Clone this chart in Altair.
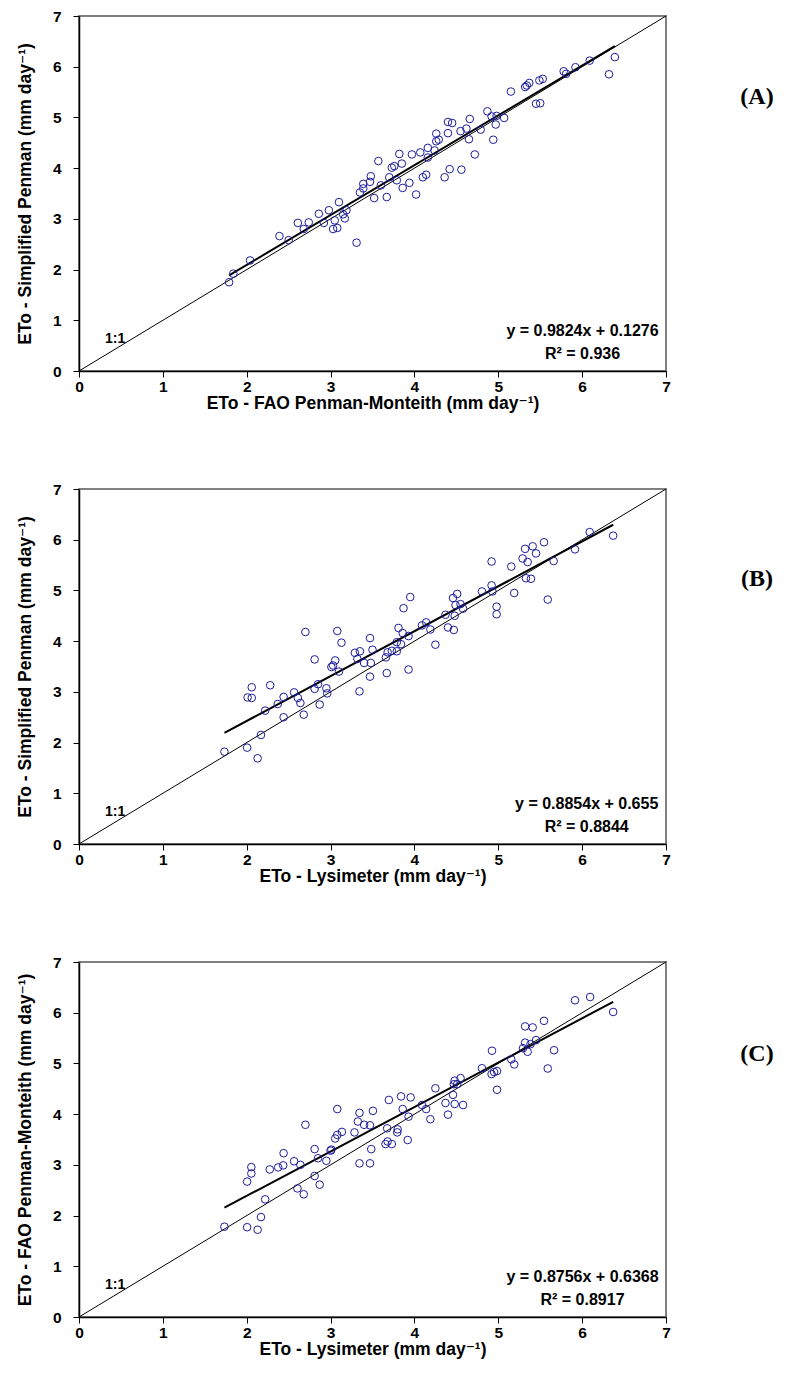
import altair as alt
import pandas as pd

# ---------------- data ----------------
A_x = [1.84, 1.79, 2.04, 2.39, 2.50, 2.61, 2.74, 2.68, 2.86, 2.92, 2.98, 3.10, 3.03, 3.08, 3.05,
       3.17, 3.19, 3.15, 3.31, 3.35, 3.39, 3.39, 3.48, 3.47, 3.52, 3.60, 3.57, 3.67, 3.70, 3.73,
       3.76, 3.82, 3.85, 3.79, 3.86, 3.94, 4.02, 3.97, 4.07, 4.16, 4.16, 4.24, 4.10, 4.14, 4.26,
       4.26, 4.29, 4.40, 4.45, 4.40, 4.55, 4.36, 4.42, 4.56,
       4.66, 4.62, 4.65, 4.79, 4.72, 4.87, 4.92, 4.98, 4.97, 5.07, 4.94, 5.15, 5.32, 5.34, 5.37,
       5.49, 5.53, 5.45, 5.50, 5.78, 5.81, 5.92, 6.09, 6.39, 6.32]
A_y = [1.92, 1.75, 2.18, 2.66, 2.58, 2.92, 2.93, 2.80, 3.10, 2.92, 3.17, 3.33, 2.80, 2.82, 2.97,
       3.01, 3.17, 3.09, 2.53, 3.52, 3.69, 3.60, 3.84, 3.73, 3.41, 3.66, 4.14, 3.43, 3.82, 4.01,
       4.04, 4.28, 4.09, 3.76, 3.61, 3.71, 3.48, 4.27, 4.31, 4.40, 4.21, 4.35, 3.82, 3.87, 4.68,
       4.53, 4.56, 4.91, 4.89, 4.69, 4.73, 3.82, 3.98, 3.97,
       4.97, 4.78, 4.57, 4.76, 4.27, 5.12, 5.02, 5.03, 4.86, 4.99, 4.56, 5.51, 5.60, 5.63, 5.68,
       5.73, 5.76, 5.27, 5.28, 5.91, 5.86, 5.99, 6.12, 6.19, 5.85]

B_x = [1.734, 2.005, 2.13, 2.17, 2.22, 2.01, 2.06, 2.06, 2.28, 2.37, 2.44, 2.44, 2.565, 2.61, 2.64,
       2.68, 2.70, 2.81, 2.81, 2.85, 2.87, 2.95, 2.96, 3.01, 3.03, 3.055, 3.10, 3.08, 3.13, 3.345,
       3.29, 3.35, 3.32, 3.40, 3.47, 3.50, 3.48, 3.47, 3.67, 3.66, 3.68, 3.73, 3.79, 3.79, 3.84,
       3.81, 3.86, 3.93, 3.87, 3.95, 3.93, 4.09, 4.14, 4.19, 4.25, 4.37, 4.40, 4.47, 4.46, 4.51,
       4.49, 4.48, 4.55, 4.58, 4.805, 4.92, 4.93, 4.92, 4.98, 4.98, 5.155, 5.19, 5.32, 5.29, 5.35,
       5.41, 5.45, 5.545, 5.33, 5.39, 5.66, 5.59, 5.915, 6.09, 6.37]
B_y = [1.82, 1.90, 1.69, 2.15, 2.63, 2.89, 2.88, 3.09, 3.13, 2.76, 2.90, 2.50, 2.99, 2.88, 2.78,
       2.55, 4.18, 3.64, 3.06, 3.15, 2.75, 3.07, 2.97, 3.49, 3.52, 3.62, 3.40, 4.20, 3.97, 3.01,
       3.77, 3.80, 3.65, 3.57, 4.06, 3.83, 3.57, 3.30, 3.37, 3.68, 3.78, 3.81, 3.80, 3.98, 3.94,
       4.26, 4.16, 4.10, 4.65, 4.87, 3.44, 4.31, 4.37, 4.23, 3.93, 4.52, 4.27, 4.22, 4.85, 4.93,
       4.71, 4.50, 4.73, 4.64, 4.98, 5.10, 4.98, 5.57, 4.68, 4.53, 5.47, 4.95, 5.82, 5.63, 5.56,
       5.87, 5.73, 5.95, 5.24, 5.23, 5.58, 4.82, 5.81, 6.15, 6.08]

C_x = [1.734, 2.005, 2.13, 2.17, 2.22, 2.005, 2.055, 2.055, 2.275, 2.375, 2.435, 2.44, 2.565, 2.64,
       2.605, 2.68, 2.70, 2.81, 2.85, 2.81, 2.87, 2.95, 3.00, 3.01, 3.055, 3.08, 3.135, 3.08, 3.285,
       3.325, 3.345, 3.40, 3.47, 3.505, 3.345, 3.47, 3.485, 3.655, 3.68, 3.73, 3.675, 3.695, 3.795,
       3.80, 3.92, 3.86, 3.93, 3.84, 3.955, 4.09, 4.14, 4.19, 4.25, 4.37, 4.40, 4.48, 4.47, 4.48,
       4.51, 4.55, 4.58, 4.46, 4.805, 4.925, 4.92, 4.95, 4.985, 4.985, 5.155, 5.19, 5.32, 5.41, 5.32,
       5.295, 5.35, 5.385, 5.45, 5.545, 5.665, 5.59, 5.915, 6.095, 6.37]
C_y = [1.78, 1.77, 1.72, 1.97, 2.32, 2.67, 2.83, 2.955, 2.91, 2.95, 2.99, 3.23, 3.07, 3.00,
       2.535, 2.42, 3.79, 3.31, 3.13, 2.78, 2.61, 3.08, 3.28, 3.30, 3.52, 3.59, 3.65, 4.10, 3.64,
       3.855, 4.025, 3.79, 3.78, 4.065, 3.03, 3.03, 3.31, 3.41, 3.46, 3.41, 3.72, 4.28, 3.64,
       3.70, 3.49, 4.10, 3.95, 4.35, 4.33, 4.18, 4.10, 3.90, 4.51, 4.22, 3.99, 4.20, 4.59, 4.66,
       4.59, 4.71, 4.18, 4.38, 4.905, 5.25, 4.79, 4.83, 4.85, 4.48, 5.08, 4.98, 5.73, 5.71, 5.41,
       5.30, 5.23, 5.38, 5.46, 5.84, 5.26, 4.90, 6.245, 6.31, 6.015]

slopes = [0.9824, 0.8854, 0.8756]
intercepts = [0.1276, 0.655, 0.6368]
eq_texts = ["y = 0.9824x + 0.1276", "y = 0.8854x + 0.655", "y = 0.8756x + 0.6368"]
r2_texts = ["R\u00b2 = 0.936", "R\u00b2 = 0.8844", "R\u00b2 = 0.8917"]
x_titles = ["ETo - FAO Penman-Monteith (mm day\u207b\u00b9)",
            "ETo - Lysimeter (mm day\u207b\u00b9)",
            "ETo - Lysimeter (mm day\u207b\u00b9)"]
y_titles = ["ETo - Simplified Penman (mm day\u207b\u00b9)",
            "ETo - Simplified Penman (mm day\u207b\u00b9)",
            "ETo - FAO Penman-Monteith (mm day\u207b\u00b9)"]
tags = ["(A)", "(B)", "(C)"]
ticks = [0, 1, 2, 3, 4, 5, 6, 7]

# ---------------- style ----------------
W, H = 587, 355
NAVY = "#1c1c9c"
SANS = "Liberation Sans, Arial, DejaVu Sans"
SERIF = "Liberation Serif, Times New Roman, serif"
eq_cx = [503.5, 507.7, 503.5]
tag_y = [81, 90, 92]


def panel(i, xs_, ys_):
    df = pd.DataFrame({"x": xs_, "y": ys_})
    sx = alt.Scale(domain=[0, 7], nice=False, zero=False)
    sy = alt.Scale(domain=[0, 7], nice=False, zero=False)
    ax = alt.Axis(title=x_titles[i], values=ticks, labelFlush=False, grid=False,
                  labelPadding=2, titlePadding=0)
    ay = alt.Axis(title=y_titles[i], values=ticks, grid=False, labelPadding=12, titlePadding=18)
    X = alt.X("x:Q", scale=sx, axis=ax)
    Y = alt.Y("y:Q", scale=sy, axis=ay)

    one = alt.Chart(pd.DataFrame({"x": [0, 7], "y": [0, 7]})).mark_line(
        color="black", strokeWidth=1).encode(x=X, y=Y)
    x0, x1 = min(xs_), max(xs_)
    reg_df = pd.DataFrame({"x": [x0, x1],
                           "y": [slopes[i] * x0 + intercepts[i], slopes[i] * x1 + intercepts[i]]})
    reg = alt.Chart(reg_df).mark_line(color="black", strokeWidth=2).encode(x=X, y=Y)
    pts = alt.Chart(df).mark_point(shape="circle", filled=False, size=58, color=NAVY,
                                   strokeWidth=1, opacity=1).encode(x=X, y=Y)

    def txt(t, px, py, size, align="center", font=SANS):
        return alt.Chart(pd.DataFrame({"t": [t]})).mark_text(
            font=font, fontSize=size, fontWeight="bold", color="black", align=align,
            baseline="middle").encode(text="t:N", x=alt.value(px), y=alt.value(py))

    layers = [one, reg, pts,
              txt("1:1", 26, 322.6, 14, align="left"),
              txt(eq_texts[i], eq_cx[i], 315, 16),
              txt(r2_texts[i], eq_cx[i], 337.6, 16),
              txt(tags[i], 678, tag_y[i], 24, font=SERIF)]
    return alt.layer(*layers).properties(width=W, height=H)


charts = [panel(0, A_x, A_y), panel(1, B_x, B_y), panel(2, C_x, C_y)]

chart = alt.vconcat(*charts, spacing=118, bounds="flush").properties(
    padding={"left": 7, "top": 0, "right": 5, "bottom": 5}
).configure_view(
    stroke="#808080", strokeWidth=2
).configure_axis(
    domainColor="black", domainWidth=1.5, tickColor="black", tickSize=6, tickWidth=1,
    labelColor="black", titleColor="black", labelFont=SANS, titleFont=SANS,
    labelFontWeight="bold", titleFontWeight="bold", labelFontSize=15.5, titleFontSize=17.5,
    grid=False
)

chart.save("out.html", embed_options={"renderer": "svg", "actions": False})
